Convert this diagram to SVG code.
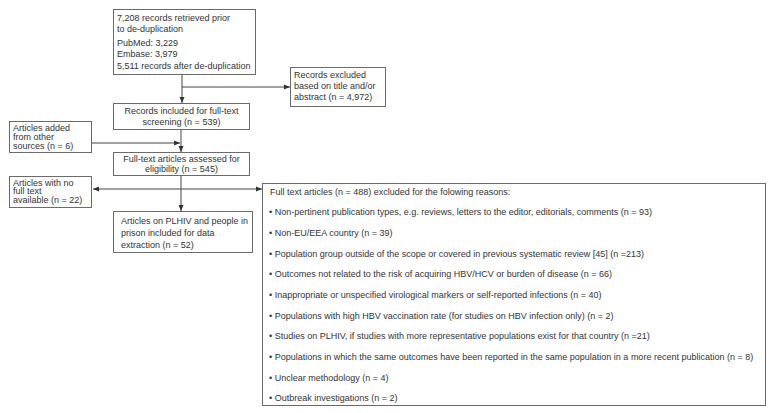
<svg xmlns="http://www.w3.org/2000/svg" width="774" height="413" viewBox="0 0 774 413">
<style>
.box{fill:#fff;stroke:#6a6a6a;stroke-width:1}
text{font-family:"Liberation Sans",Arial,sans-serif;font-size:9px;fill:#333}
.c{text-anchor:middle}
.ln{stroke:#444;stroke-width:1;fill:none}
</style>
<defs>
<marker id="ah" viewBox="0 0 6 6" refX="6" refY="3" markerWidth="6" markerHeight="6" markerUnits="userSpaceOnUse" orient="auto-start-reverse">
<path d="M0,0.5 L6,3 L0,5.5 Z" fill="#333"/>
</marker>
</defs>
<rect width="774" height="413" fill="#fff"/>
<g id="connectors">
<line class="ln" x1="182" y1="75" x2="182" y2="103" marker-end="url(#ah)"/>
<line class="ln" x1="182" y1="87" x2="290" y2="87" marker-end="url(#ah)"/>
<line class="ln" x1="181" y1="130" x2="181" y2="152" marker-end="url(#ah)"/>
<line class="ln" x1="92" y1="143" x2="180" y2="143" marker-end="url(#ah)"/>
<line class="ln" x1="181" y1="176" x2="181" y2="211" marker-end="url(#ah)"/>
<line class="ln" x1="93" y1="189" x2="262" y2="189" marker-start="url(#ah)" marker-end="url(#ah)"/>
</g>
<g id="retrieved">
<rect class="box" x="113.5" y="9.5" width="142" height="65"/>
<text x="117" y="21">7,208 records retrieved prior</text>
<text x="117" y="32">to de-duplication</text>
<text x="117" y="46">PubMed: 3,229</text>
<text x="117" y="57">Embase: 3,979</text>
<text x="117" y="69">5,511 records after de-duplication</text>
</g>
<g id="excluded-title">
<rect class="box" x="290.5" y="67.5" width="95" height="39"/>
<text x="294" y="78">Records excluded</text>
<text x="294" y="89">based on title and/or</text>
<text x="294" y="100">abstract (n = 4,972)</text>
</g>
<g id="included">
<rect class="box" x="113.5" y="103.5" width="136" height="26"/>
<text class="c" x="181.5" y="114">Records included for full-text</text>
<text class="c" x="181.5" y="125">screening (n = 539)</text>
</g>
<g id="added">
<rect class="box" x="9.5" y="121.5" width="82" height="31"/>
<text x="13" y="131">Articles added</text>
<text x="13" y="140">from other</text>
<text x="13" y="149">sources (n = 6)</text>
</g>
<g id="assessed">
<rect class="box" x="113.5" y="152.5" width="136" height="23"/>
<text class="c" x="181.5" y="162">Full-text articles assessed for</text>
<text class="c" x="181.5" y="172">eligibility (n = 545)</text>
</g>
<g id="nofulltext">
<rect class="box" x="9.5" y="176.5" width="82" height="31"/>
<text x="13" y="185.5">Articles with no</text>
<text x="13" y="194">full text</text>
<text x="13" y="203">available (n = 22)</text>
</g>
<g id="plhiv">
<rect class="box" x="113.5" y="211.5" width="139" height="41"/>
<text x="121" y="224">Articles on PLHIV and people in</text>
<text x="121" y="236">prison included for data</text>
<text x="121" y="248">extraction (n = 52)</text>
</g>
<g id="reasons">
<rect class="box" x="262.5" y="183.5" width="503" height="222"/>
<text x="270" y="194.7">Full text articles (n = 488) excluded for the folowing reasons:</text>
<text x="269" y="215.4">• Non-pertinent publication types, e.g. reviews, letters to the editor, editorials, comments (n = 93)</text>
<text x="269" y="236">• Non-EU/EEA country (n = 39)</text>
<text x="269" y="256.7">• Population group outside of the scope or covered in previous systematic review [45] (n =213)</text>
<text x="269" y="277.3">• Outcomes not related to the risk of acquiring HBV/HCV or burden of disease (n = 66)</text>
<text x="269" y="298">• Inappropriate or unspecified virological markers or self-reported infections (n = 40)</text>
<text x="269" y="318.6">• Populations with high HBV vaccination rate (for studies on HBV infection only) (n = 2)</text>
<text x="269" y="339.3">• Studies on PLHIV, if studies with more representative populations exist for that country (n =21)</text>
<text x="269" y="359.9">• Populations in which the same outcomes have been reported in the same population in a more recent publication (n = 8)</text>
<text x="269" y="380.6">• Unclear methodology (n = 4)</text>
<text x="269" y="401.2">• Outbreak investigations (n = 2)</text>
</g>
</svg>
